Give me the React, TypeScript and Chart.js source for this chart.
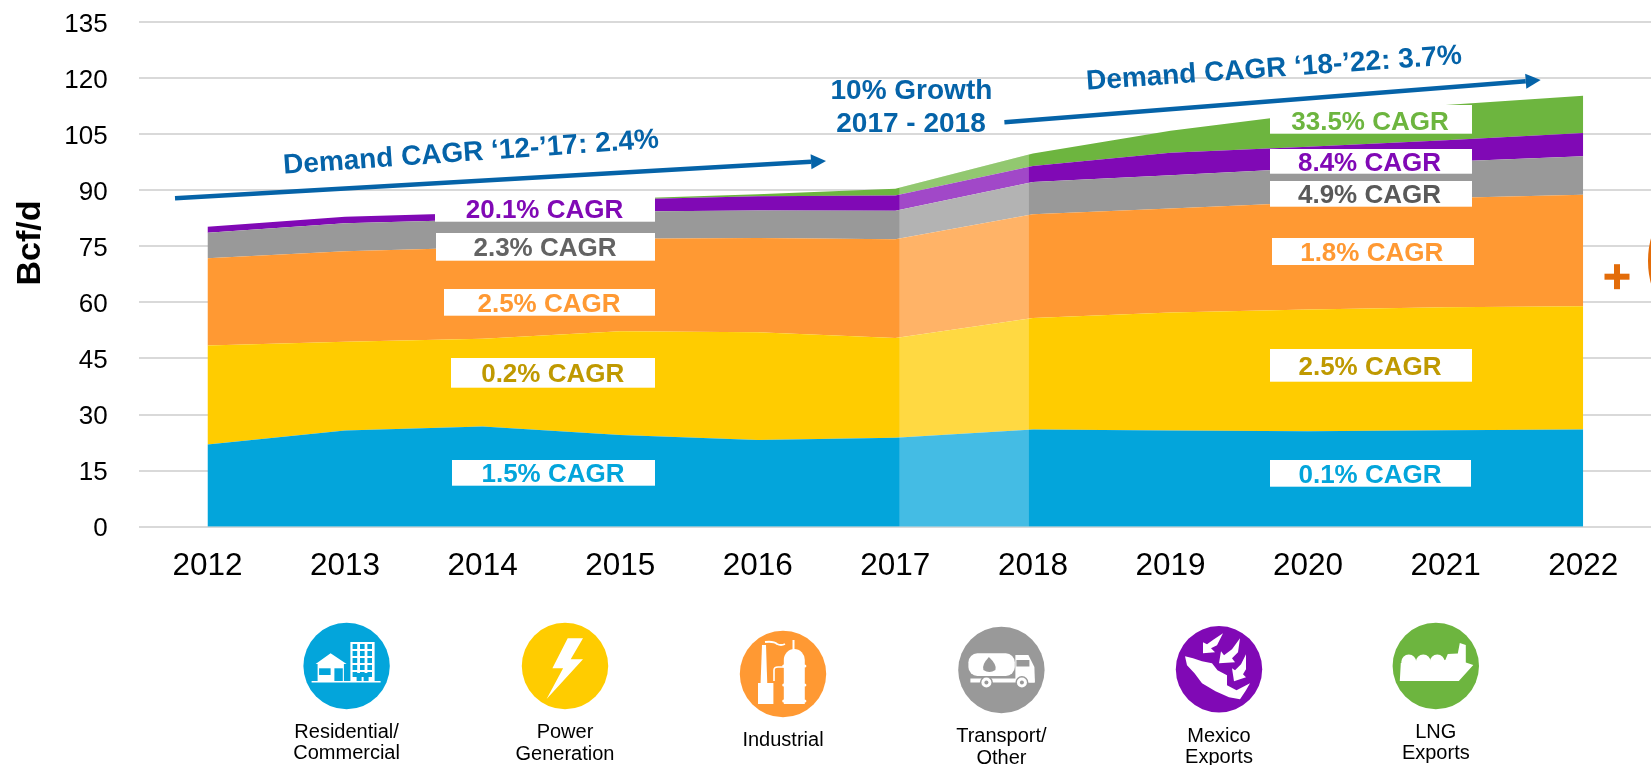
import React, { useEffect, useRef } from "react";
import { Chart, registerables } from "chart.js";

Chart.register(...registerables);

const years = ["2012", "2013", "2014", "2015", "2016", "2017", "2018", "2019", "2020", "2021", "2022"];
const residential = [22, 25.7, 26.8, 24.5, 23.2, 23.8, 26, 25.7, 25.5, 25.8, 26];
const power = [26.5, 23.8, 23.5, 27.8, 28.8, 26.7, 29.8, 31.6, 32.6, 32.9, 33];
const industrial = [23.3, 24.2, 24.4, 24.7, 25.2, 26.4, 27.8, 27.8, 28.6, 29.2, 29.8];
const transport = [6.8, 7.5, 7.5, 7.3, 7.4, 7.6, 8.6, 8.9, 9.2, 9.7, 10.3];
const mexico = [1.6, 1.7, 1.8, 3.2, 3.8, 4.1, 4.3, 6, 5.7, 5.8, 6.2];
const lng = [0, 0, 0, 0.2, 0.5, 1.8, 3.3, 5.9, 8.9, 9.4, 10];

const BLUE = "#03A5DB", YELLOW = "#FFCC00", ORANGE = "#FF9933", GRAY = "#999999", PURPLE = "#8009B5", GREEN = "#6DB53F";
const ARROW = "#0563A8";
const FONT = '"Liberation Sans", Arial, sans-serif';

const series = [
  { label: "Residential/Commercial", data: residential, color: BLUE },
  { label: "Power Generation", data: power, color: YELLOW },
  { label: "Industrial", data: industrial, color: ORANGE },
  { label: "Transport/Other", data: transport, color: GRAY },
  { label: "Mexico Exports", data: mexico, color: PURPLE },
  { label: "LNG Exports", data: lng, color: GREEN },
];

// [text, colour, box left, box top, box right, box bottom, text x, text y]
const cagrNotes: [string, string, number, number, number, number, number, number][] = [
  ["20.1% CAGR", PURPLE, 435, 197, 655, 221.7, 544.5, 209],
  ["2.3% CAGR", "#636363", 436, 233, 655, 260.7, 545, 247],
  ["2.5% CAGR", ORANGE, 444, 289, 655, 315.7, 549, 303],
  ["0.2% CAGR", "#BF9900", 451, 358, 655, 387.7, 552.7, 373],
  ["1.5% CAGR", BLUE, 452, 460, 655, 485.7, 553, 473.3],
  ["33.5% CAGR", GREEN, 1270, 105, 1472, 133.7, 1370, 120.7],
  ["8.4% CAGR", PURPLE, 1270, 149, 1472, 173.7, 1369.5, 161.7],
  ["4.9% CAGR", "#595959", 1270, 181, 1472, 206.7, 1369.5, 194.3],
  ["1.8% CAGR", ORANGE, 1272, 238, 1474, 265, 1371.7, 251.7],
  ["2.5% CAGR", "#BF9900", 1270, 349, 1472, 381.7, 1370, 366],
  ["0.1% CAGR", BLUE, 1270, 460, 1471, 486.7, 1370, 474],
];

// [lines, colour, circle x, circle y, text y per line]
const legendItems: [string[], string, number, number, number[]][] = [
  [["Residential/", "Commercial"], BLUE, 346.6, 666, [730, 751.7]],
  [["Power", "Generation"], YELLOW, 565, 666, [730, 752.7]],
  [["Industrial"], ORANGE, 783, 674, [738]],
  [["Transport/", "Other"], GRAY, 1001.4, 670, [734, 756.7]],
  [["Mexico", "Exports"], PURPLE, 1219, 669.3, [734.3, 755.3]],
  [["LNG", "Exports"], GREEN, 1435.8, 666, [730, 751.7]],
];

const TEXT_NUDGE = 2; // middle baseline sits a little high in this font

function poly(c: CanvasRenderingContext2D, pts: number[][]) {
  c.beginPath();
  pts.forEach((p, i) => (i ? c.lineTo(p[0], p[1]) : c.moveTo(p[0], p[1])));
  c.closePath();
  c.fill();
}

function rect(c: CanvasRenderingContext2D, x0: number, y0: number, x1: number, y1: number) {
  c.fillRect(x0, y0, x1 - x0, y1 - y0);
}

function drawIcon(c: CanvasRenderingContext2D, i: number, color: string) {
  c.fillStyle = "#FFFFFF";
  c.strokeStyle = "#FFFFFF";
  if (i === 0) {
    rect(c, -35, 15, 34, 16.5);
    poly(c, [[-16, -12.7], [0, -2], [-2.7, -2], [-2.7, 15], [-29, 15], [-29, -2], [-31, -2]]);
    rect(c, 3.8, -24, 28, 15);
    c.fillStyle = color;
    rect(c, -27.5, 2.3, -16, 9);
    rect(c, -12.2, 2.3, -3.8, 15);
    for (let r = 0; r < 5; r++) for (let k = 0; k < 3; k++) rect(c, 6 + k * 7.4, -22 + r * 7, 10.6 + k * 7.4, -17 + r * 7);
    rect(c, 10, 7, 15, 15);
    rect(c, 17, 7, 22, 15);
  } else if (i === 1) {
    poly(c, [[2.7, -27.7], [18, -27.7], [5.7, -6.7], [18, -6.7], [-18.4, 33], [-1.9, 2.3], [-12.6, 2.3]]);
  } else if (i === 2) {
    rect(c, -25, 9, -9.6, 30);
    poly(c, [[-21, -29], [-17, -29], [-15.7, 11], [-22.5, 11]]);
    c.beginPath();
    c.moveTo(0.8, 30);
    c.lineTo(0.8, -14);
    c.ellipse(11.3, -14, 10.5, 11, 0, Math.PI, 0);
    c.lineTo(21.8, 30);
    c.closePath();
    c.fill();
    rect(c, 9.5, -34, 11.5, -22);
    c.lineWidth = 1.6;
    c.beginPath();
    c.moveTo(-9, 7);
    c.lineTo(-9, -4);
    c.quadraticCurveTo(-9, -7, -5, -7);
    c.lineTo(1, -7);
    c.stroke();
    c.lineWidth = 1.8;
    c.beginPath();
    c.moveTo(-18, -32);
    c.quadraticCurveTo(-9, -33, -6, -30);
    c.quadraticCurveTo(-2, -28, 2, -30);
    c.stroke();
    for (const y of [-8, 11, 27]) {
      c.beginPath();
      c.arc(0.8, y, 1.6, 0, Math.PI * 2);
      c.arc(21.8, y, 1.6, 0, Math.PI * 2);
      c.fill();
    }
  } else if (i === 3) {
    c.beginPath();
    c.roundRect(-33, -16.7, 46.4, 22.7, 9);
    c.fill();
    poly(c, [[14, -15], [27, -15], [33, -3], [33.5, 12.5], [14, 12.5]]);
    rect(c, -31, 8.5, 33, 12.5);
    c.fillStyle = color;
    rect(c, 15, -10, 28, -3.5);
    c.beginPath();
    c.moveTo(-12.5, -13);
    c.quadraticCurveTo(-4, -5, -6, 0);
    c.quadraticCurveTo(-12, 4, -18, 0);
    c.quadraticCurveTo(-20, -5, -12.5, -13);
    c.fill();
    for (const x of [-15, 20.5]) {
      c.fillStyle = color;
      c.beginPath();
      c.arc(x, 12.5, 6.5, 0, Math.PI * 2);
      c.fill();
      c.fillStyle = "#FFFFFF";
      c.beginPath();
      c.arc(x, 12.5, 5, 0, Math.PI * 2);
      c.fill();
      c.fillStyle = color;
      c.beginPath();
      c.arc(x, 12.5, 2, 0, Math.PI * 2);
      c.fill();
    }
  } else if (i === 4) {
    poly(c, [[-34, -13], [-26, -11], [-17, -8], [-7, -6], [-1.5, 1], [8, 6], [8, 16], [17.5, 21], [31, 14], [27, 21], [21, 30], [10, 28], [-3.5, 22], [-17, 14], [-24.5, 4], [-32, -4]]);
    poly(c, [[4, -36], [-2, -24], [-8, -21], [-4, -17], [-16, -16], [-16, -27], [-12, -25], [-5, -30]]);
    poly(c, [[21, -31], [19, -17], [13, -11], [16, -7], [0, -6], [2, -18], [5, -14], [13, -20]]);
    poly(c, [[27, -15], [27, 0], [24, 5], [27, 8], [15, 12], [13, -1], [16, 1], [22, -5]]);
  } else {
    poly(c, [[-36, 15], [23, 15], [37.5, -1], [30, -3.5], [30, -21], [24, -23], [22, -12.5], [12, -12], [9.5, -6], [-35, -3]]);
    for (const x of [-27, -12.5, 1.5]) {
      c.beginPath();
      c.ellipse(x, -4, 7.5, 7.5, 0, 0, Math.PI * 2);
      c.fill();
    }
  }
}

const annotationPlugin = {
  id: "annotations",
  afterDatasetsDraw(chart: any) {
    // Translucent 2017-2018 band, limited to the stacked area
    const c: CanvasRenderingContext2D = chart.ctx;
    const xs = chart.scales.x;
    const bottom = chart.scales.y.getPixelForValue(0);
    const top = chart.getDatasetMeta(series.length - 1).data;
    c.save();
    c.beginPath();
    c.moveTo(top[0].x, bottom);
    top.forEach((p: any) => c.lineTo(p.x, p.y));
    c.lineTo(top[top.length - 1].x, bottom);
    c.closePath();
    c.clip();
    c.fillStyle = "rgba(255,255,255,0.26)";
    const left = xs.getPixelForValue(5) + 4;
    const right = xs.getPixelForValue(6) - 4;
    c.fillRect(left, chart.chartArea.top, right - left, bottom - chart.chartArea.top);
    c.restore();
  },
  afterDraw(chart: any) {
    const c: CanvasRenderingContext2D = chart.ctx;
    c.save();
    c.textAlign = "center";
    c.textBaseline = "middle";
    for (const [text, color, x0, y0, x1, y1, tx, ty] of cagrNotes) {
      c.fillStyle = "#FFFFFF";
      c.fillRect(x0, y0, x1 - x0, y1 - y0);
      c.fillStyle = color;
      c.font = `bold 26px ${FONT}`;
      c.fillText(text, tx, ty + TEXT_NUDGE);
    }

    const arrow = (x0: number, y0: number, x1: number, y1: number) => {
      const a = Math.atan2(y1 - y0, x1 - x0);
      const bx = x1 - 15 * Math.cos(a);
      const by = y1 - 15 * Math.sin(a);
      c.strokeStyle = ARROW;
      c.fillStyle = ARROW;
      c.lineWidth = 4.5;
      c.beginPath();
      c.moveTo(x0, y0);
      c.lineTo(bx, by);
      c.stroke();
      poly(c, [
        [x1, y1],
        [bx - 7.5 * Math.sin(a), by + 7.5 * Math.cos(a)],
        [bx + 7.5 * Math.sin(a), by - 7.5 * Math.cos(a)],
      ]);
    };
    arrow(175, 198.3, 826, 161);
    arrow(1004.4, 122.3, 1540.7, 80);

    const rotated = (text: string, x: number, y: number, deg: number, font: string, color: string) => {
      c.save();
      c.translate(x, y);
      c.rotate((deg * Math.PI) / 180);
      c.font = font;
      c.fillStyle = color;
      c.fillText(text, 0, 0);
      c.restore();
    };
    rotated("Demand CAGR \u201812-\u201917: 2.4%", 471, 153, -4, `bold 28px ${FONT}`, ARROW);
    rotated("Demand CAGR \u201818-\u201922: 3.7%", 1274, 69, -4, `bold 28px ${FONT}`, ARROW);
    rotated("10% Growth", 911.4, 89.3 + TEXT_NUDGE, 0, `bold 28px ${FONT}`, ARROW);
    rotated("2017 - 2018", 911, 122 + TEXT_NUDGE, 0, `bold 28px ${FONT}`, ARROW);
    rotated("Bcf/d", 30.5, 243, -90, `bold 34px ${FONT}`, "#000000");

    // Plus sign and the clipped circle at the right edge
    c.fillStyle = "#E36C09";
    rect(c, 1604.5, 273.7, 1629.5, 279.7);
    rect(c, 1614, 264.2, 1620, 289.2);
    c.strokeStyle = "#E36C09";
    c.lineWidth = 4;
    c.beginPath();
    c.arc(1737, 261, 87, 0, Math.PI * 2);
    c.stroke();

    // Legend icons and captions
    legendItems.forEach(([lines, color, cx, cy, ys], i) => {
      c.fillStyle = color;
      c.beginPath();
      c.arc(cx, cy, 43.2, 0, Math.PI * 2);
      c.fill();
      c.save();
      c.translate(cx, cy);
      drawIcon(c, i, color);
      c.restore();
      c.fillStyle = "#000000";
      c.font = `20px ${FONT}`;
      lines.forEach((line, k) => c.fillText(line, cx, ys[k] + TEXT_NUDGE));
    });
    c.restore();
  },
};

export default function App() {
  const ref = useRef<HTMLCanvasElement>(null);
  useEffect(() => {
    document.body.style.margin = "0";
    document.body.style.background = "#FFFFFF";
    const chart = new Chart(ref.current!, {
      type: "line",
      data: {
        labels: years,
        datasets: series.map((s, i) => ({
          label: s.label,
          data: s.data,
          backgroundColor: s.color,
          borderColor: s.color,
          borderWidth: 0,
          pointRadius: 0,
          tension: 0,
          fill: i === 0 ? "origin" : "-1",
        })),
      },
      options: {
        responsive: false,
        animation: false,
        layout: { autoPadding: false, padding: { top: 22, left: 0, right: 0, bottom: 0 } },
        plugins: { legend: { display: false }, tooltip: { enabled: false } },
        scales: {
          x: {
            stacked: true,
            offset: true,
            grid: { display: false },
            border: { display: false },
            afterFit: (s: any) => {
              s.height = 765 - 526.7;
            },
            ticks: { color: "#000000", font: { family: FONT, size: 31.5 }, padding: 13, maxRotation: 0, autoSkip: false },
          },
          y: {
            stacked: true,
            min: 0,
            max: 135,
            afterFit: (s: any) => {
              s.width = 138.7;
              s.paddingTop = 0;
              s.paddingBottom = 0;
            },
            grid: { color: "#D9D9D9", lineWidth: 2, drawTicks: false },
            border: { display: false },
            ticks: { stepSize: 15, color: "#000000", font: { family: FONT, size: 26 }, padding: 31, labelOffset: 2.5 },
          },
        },
      },
      plugins: [annotationPlugin],
    } as any);
    return () => chart.destroy();
  }, []);
  return (
    <div style={{ position: "absolute", left: 0, top: 0, width: 1651, height: 765, overflow: "hidden", background: "#FFFFFF" }}>
      <canvas ref={ref} width={1652.5} height={765} style={{ display: "block" }} />
    </div>
  );
}
